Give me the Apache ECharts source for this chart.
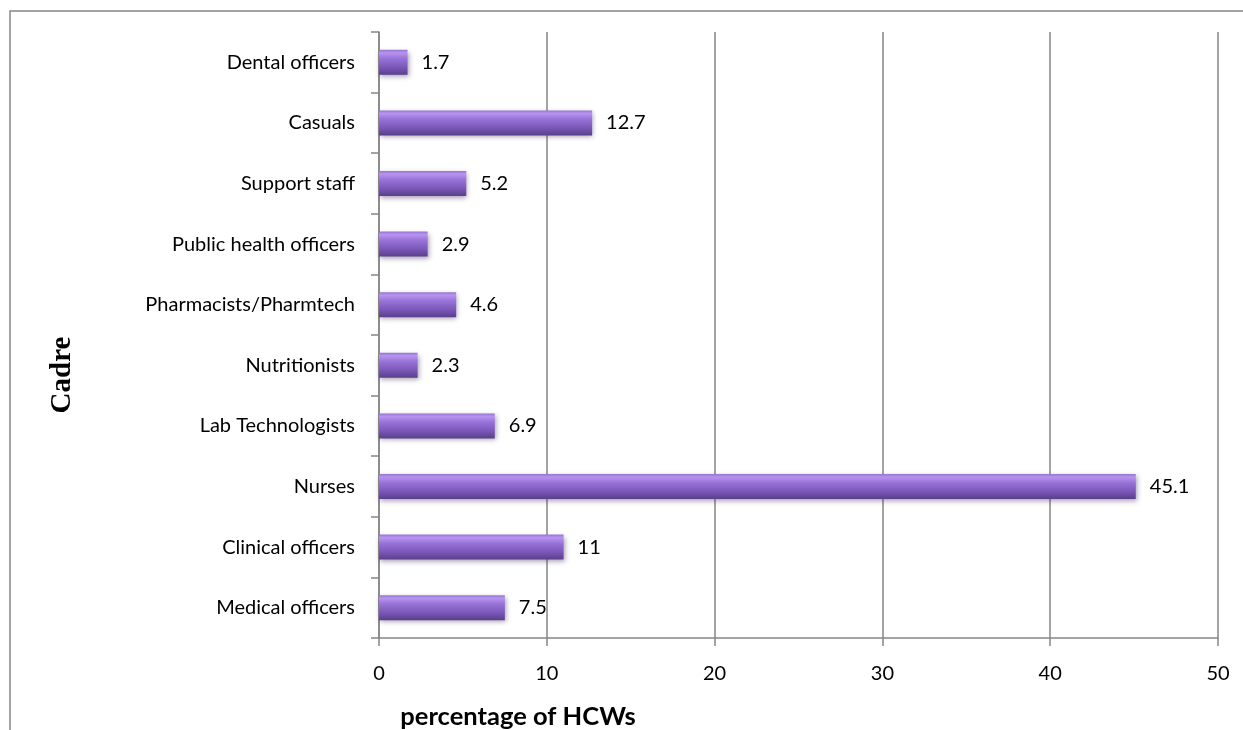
<!DOCTYPE html>
<html><head><meta charset="utf-8">
<script src="https://cdn.jsdelivr.net/npm/echarts@6/dist/echarts.min.js"></script>
<style>html,body{margin:0;padding:0;background:#fff}#c{width:1243px;height:730px}</style>
</head><body><div id="c"></div>
<script>
const categories = ["Medical officers","Clinical officers","Nurses","Lab Technologists","Nutritionists","Pharmacists/Pharmtech","Public health officers","Support staff","Casuals","Dental officers"];
const values = [7.5, 11, 45.1, 6.9, 2.3, 4.6, 2.9, 5.2, 12.7, 1.7];
const xTicks = [0, 10, 20, 30, 40, 50];

const chart = echarts.init(document.getElementById('c'));
const grad = new echarts.graphic.LinearGradient(0,0,0,1,[
  {offset:0, color:'#9474d2'},
  {offset:0.12, color:'#b894f0'},
  {offset:0.35, color:'#9873d8'},
  {offset:0.7, color:'#7a57b8'},
  {offset:1, color:'#5a3f8a'}
]);
chart.setOption({
  animation:false,
  grid:{left:379, right:25, top:32, bottom:92},
  xAxis:{type:'value', min:xTicks[0], max:xTicks[xTicks.length-1], interval:10,
    axisLine:{show:true, lineStyle:{color:'#868686', width:1.5}},
    axisTick:{show:true, length:8, lineStyle:{color:'#868686', width:1.5}},
    axisLabel:{margin:26, fontFamily:'Lato', fontSize:20, color:'#000'},
    splitLine:{show:true, lineStyle:{color:'#868686', width:1.5}}
  },
  yAxis:{type:'category', data:categories,
    axisLine:{show:true, lineStyle:{color:'#868686', width:1.5}},
    axisTick:{show:true, length:8, lineStyle:{color:'#868686', width:1.5}},
    axisLabel:{margin:24, fontFamily:'Lato', fontSize:20, color:'#000'}
  },
  series:[{type:'bar', data:values, barWidth:25,
    itemStyle:{color:grad, shadowColor:'rgba(60,40,90,0.45)', shadowBlur:5, shadowOffsetY:2, shadowOffsetX:1},
    label:{show:true, position:'right', distance:14, fontFamily:'Lato', fontSize:20, color:'#000'}
  }],
  graphic:[
    {type:'rect', shape:{x:10, y:11, width:1300, height:800}, style:{fill:'none', stroke:'#868686', lineWidth:1.5}, silent:true},
    {type:'text', x:518, y:717, style:{text:'percentage of HCWs', font:'bold 25.5px Lato', fill:'#000', textAlign:'center', textVerticalAlign:'middle'}},
    {type:'text', x:63, y:375, rotation:Math.PI/2, style:{text:'Cadre', font:'bold 29px "Liberation Serif"', fill:'#000', textAlign:'center', textVerticalAlign:'middle'}}
  ]
});
</script></body></html>
